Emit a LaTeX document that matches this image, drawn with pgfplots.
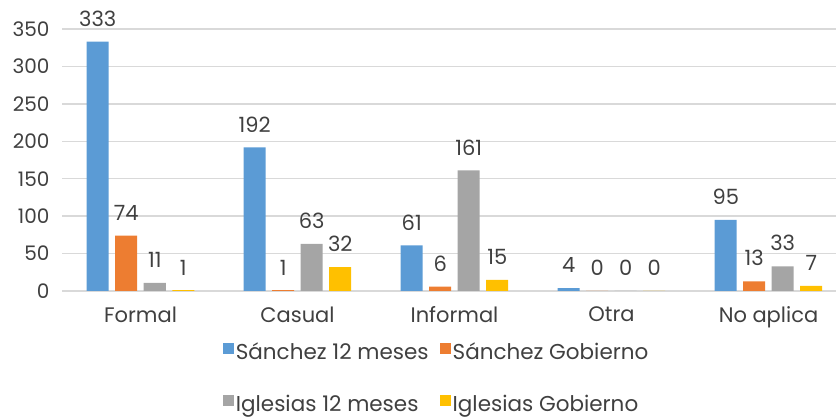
\documentclass[border=0pt]{standalone}
\usepackage{pgfplots}
\pgfplotsset{compat=1.18}
\usepackage{fontspec}
\setmainfont{Poppins}
\definecolor{cblue}{HTML}{5B9BD5}
\definecolor{corange}{HTML}{ED7D31}
\definecolor{cgray}{HTML}{A5A5A5}
\definecolor{cyellow}{HTML}{FFC000}
\definecolor{gridgray}{HTML}{D9D9D9}
\definecolor{txt}{HTML}{404040}
\begin{document}
\begin{tikzpicture}[x=1pt,y=1pt]
\useasboundingbox (0,0) rectangle (836,420);
\begin{axis}[
  at={(62pt,129pt)}, anchor=south west,
  scale only axis, width=774pt, height=262pt,
  xmin=-0.5, xmax=4.43, ymin=0, ymax=350,
  ybar=6.5pt, bar width=22pt,
  xtick={0,1,2,3,4},
  xticklabels={Formal,Casual,Informal,Otra,No aplica},
  ytick={0,50,...,350},
  ymajorgrids, grid style={draw=gridgray, line width=1.5pt},
  axis line style={draw=none},
  major tick length=0pt,
  /pgf/number format/assume math mode=true,
  tick label style={text=txt},
  xticklabel style={font=\fontsize{21}{24}\selectfont, yshift=-12pt},
  yticklabel style={font=\fontsize{20}{24}\selectfont, xshift=-9pt},
  nodes near coords,
  nodes near coords style={font=\fontsize{21}{24}\selectfont, text=txt, inner sep=0pt, anchor=south, yshift=15pt},
  clip=false,
  legend columns=2,
  legend cell align=left,
  legend style={at={(0.484,-0.18)}, anchor=north, draw=none, fill=none,
    font=\fontsize{21.5}{25}\selectfont, text=txt, row sep=30pt,
    nodes={inner xsep=1.5pt},
    /tikz/every even column/.append style={column sep=10pt},
    /tikz/every odd column/.append style={column sep=0pt}},
  legend image code/.code={\fill[#1,draw=none] (0pt,-2pt) rectangle (11pt,9pt);},
]
\addplot[fill=cblue, draw=none] coordinates {(0,333) (1,192) (2,61) (3,4) (4,95)};
\addplot[fill=corange, draw=none] coordinates {(0,74) (1,1) (2,6) (3,0) (4,13)};
\addplot[fill=cgray, draw=none] coordinates {(0,11) (1,63) (2,161) (3,0) (4,33)};
\addplot[fill=cyellow, draw=none] coordinates {(0,1) (1,32) (2,15) (3,0) (4,7)};
\legend{Sánchez 12 meses, Sánchez Gobierno, Iglesias 12 meses, Iglesias Gobierno}
\end{axis}
\end{tikzpicture}
\end{document}
